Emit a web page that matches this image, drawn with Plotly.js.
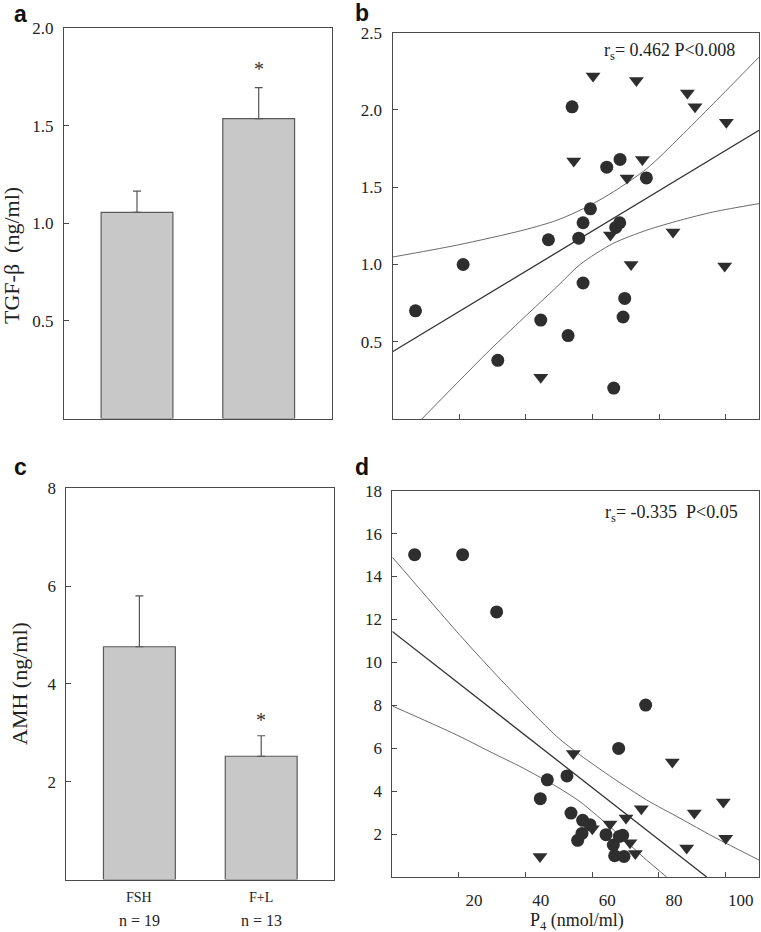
<!DOCTYPE html>
<html>
<head>
<meta charset="utf-8">
<script src="https://cdn.plot.ly/plotly-3.0.1.min.js"></script>
<style>html,body{margin:0;padding:0;background:#fff;}#chart{width:761px;height:932px;}</style>
</head>
<body>
<div id="chart"></div>
<script>
// ---------- data ----------
const groups = ["FSH", "F+L"];
const groupN = ["n = 19", "n = 13"];

// panel a: TGF-beta (ng/ml)
const tgfMean = [1.056, 1.537];
const tgfSem = [0.109, 0.159];

// panel c: AMH (ng/ml)
const amhMean = [4.76, 2.52];
const amhSem = [1.04, 0.42];

// panel b: P4 vs TGF-beta
const bFshP4 = [6.9, 21.2, 31.6, 44.5, 46.8, 52.7, 53.9, 55.9, 57.2, 57.2, 59.4, 64.3, 66.4, 67.0, 68.2, 68.3, 69.2, 69.7, 76.2];
const bFshTgf = [0.70, 1.00, 0.38, 0.64, 1.16, 0.54, 2.02, 1.17, 1.27, 0.88, 1.36, 1.63, 0.20, 1.24, 1.27, 1.68, 0.66, 0.78, 1.56];
const bFlP4 = [44.5, 54.4, 60.2, 65.4, 70.4, 71.6, 73.2, 75.0, 84.2, 88.5, 90.8, 99.7, 100.2];
const bFlTgf = [0.27, 1.67, 2.22, 1.19, 1.56, 1.00, 2.19, 1.68, 1.21, 2.11, 2.02, 0.99, 1.92];
const bFitX = [0, 110];
const bFitY = [0.435, 1.868];
const bUpX = [0, 19.3, 39.2, 49.3, 58.3, 66.2, 76.3, 86.3, 96.3, 110];
const bUpY = [1.048, 1.125, 1.222, 1.286, 1.372, 1.469, 1.620, 1.825, 2.041, 2.342];
const bLoX = [8.8, 19.3, 29.2, 39.2, 49.3, 56.3, 66.2, 76.3, 86.3, 96.3, 110];
const bLoY = [0, 0.231, 0.446, 0.651, 0.855, 1.0, 1.136, 1.222, 1.286, 1.340, 1.394];

// panel d: P4 vs AMH
const dFshP4 = [6.7, 21.1, 31.3, 44.4, 46.5, 52.4, 53.6, 55.6, 56.9, 57.1, 59.3, 64.1, 66.3, 66.7, 67.9, 68.1, 69.1, 69.5, 76.0];
const dFshAmh = [15.02, 15.02, 12.35, 3.65, 4.53, 4.71, 2.98, 1.71, 2.03, 2.64, 2.44, 1.97, 1.49, 0.99, 5.99, 1.89, 1.94, 0.96, 8.01];
const dFlP4 = [44.3, 54.3, 60.0, 65.3, 70.1, 71.3, 72.9, 74.7, 84.0, 88.3, 90.6, 99.3, 100.0];
const dFlAmh = [0.96, 5.76, 2.25, 2.47, 2.75, 1.60, 1.09, 3.18, 5.36, 1.35, 2.98, 3.49, 1.81];
const dFitX = [0, 94.3];
const dFitY = [11.44, 0];
const dUpX = [0, 9.3, 19.3, 29.3, 39.3, 49.3, 56.3, 66.3, 76.3, 86.3, 96.3, 110];
const dUpY = [14.9, 13.23, 11.44, 9.73, 8.10, 6.55, 5.69, 4.60, 3.59, 2.74, 1.88, 0.79];
const dLoX = [0, 19.3, 29.3, 39.3, 49.3, 56.3, 66.3, 76.3, 82.3];
const dLoY = [7.97, 6.62, 5.84, 5.07, 4.21, 3.51, 2.20, 0.79, 0];

const yTicksA = [0.5, 1.0, 1.5, 2.0];
const yTicksB = [0.5, 1.0, 1.5, 2.0, 2.5];
const yTicksC = [2, 4, 6, 8];
const yTicksD = [2, 4, 6, 8, 10, 12, 14, 16, 18];
const xTicksP4 = [20, 40, 60, 80, 100];

// ---------- layout helpers ----------
const W = 761, H = 932;
const px = v => v / W;
const py = v => 1 - v / H;

const SERIF = "Liberation Serif, Times New Roman, serif";
const SANS = "Liberation Sans, Arial, sans-serif";
const AX = "#4a4a4a";
const DOT = "#2e2e2e";

function axisBase(extra) {
  return Object.assign({
    showline: true, mirror: true, linecolor: AX, linewidth: 1,
    showgrid: false, zeroline: false, ticks: "inside", ticklen: 5,
    tickcolor: AX, tickwidth: 1,
    tickfont: {family: SERIF, size: 17, color: "#222"}
  }, extra);
}

const barStyle = {color: "#c8c8c8", line: {color: "#5a5a5a", width: 1.2}};
const errStyle = {type: "data", symmetric: false, color: "#555", thickness: 1.2, width: 4};

const traces = [
  {type: "bar", x: [0, 1], y: tgfMean, width: 0.59, marker: barStyle,
   error_y: Object.assign({array: tgfSem, arrayminus: [0, 0]}, errStyle),
   xaxis: "x", yaxis: "y", hoverinfo: "skip"},
  {type: "bar", x: [0, 1], y: amhMean, width: 0.59, marker: barStyle,
   error_y: Object.assign({array: amhSem, arrayminus: [0, 0]}, errStyle),
   xaxis: "x3", yaxis: "y3", hoverinfo: "skip"},

  // panel b
  {type: "scatter", mode: "lines", x: bUpX, y: bUpY, line: {color: "#444", width: 0.8, shape: "spline", smoothing: 0.8}, xaxis: "x2", yaxis: "y2"},
  {type: "scatter", mode: "lines", x: bLoX, y: bLoY, line: {color: "#444", width: 0.8, shape: "spline", smoothing: 0.8}, xaxis: "x2", yaxis: "y2"},
  {type: "scatter", mode: "lines", x: bFitX, y: bFitY, line: {color: "#333", width: 1.3}, xaxis: "x2", yaxis: "y2"},
  {type: "scatter", mode: "markers", x: bFshP4, y: bFshTgf, marker: {symbol: "circle", size: 13, color: DOT}, xaxis: "x2", yaxis: "y2"},
  {type: "scatter", mode: "markers", x: bFlP4, y: bFlTgf, marker: {symbol: "triangle-down", size: 13, color: DOT}, xaxis: "x2", yaxis: "y2"},

  // panel d
  {type: "scatter", mode: "lines", x: dUpX, y: dUpY, line: {color: "#444", width: 0.8, shape: "spline", smoothing: 0.8}, xaxis: "x4", yaxis: "y4"},
  {type: "scatter", mode: "lines", x: dLoX, y: dLoY, line: {color: "#444", width: 0.8, shape: "spline", smoothing: 0.8}, xaxis: "x4", yaxis: "y4"},
  {type: "scatter", mode: "lines", x: dFitX, y: dFitY, line: {color: "#333", width: 1.3}, xaxis: "x4", yaxis: "y4"},
  {type: "scatter", mode: "markers", x: dFshP4, y: dFshAmh, marker: {symbol: "circle", size: 13, color: DOT}, xaxis: "x4", yaxis: "y4"},
  {type: "scatter", mode: "markers", x: dFlP4, y: dFlAmh, marker: {symbol: "triangle-down", size: 13, color: DOT}, xaxis: "x4", yaxis: "y4"}
];

const annotations = [
  // panel letters
  {text: "<b>a</b>", xref: "paper", yref: "paper", x: px(20), y: py(14), showarrow: false, font: {family: SANS, size: 23, color: "#111"}, xanchor: "center", yanchor: "middle"},
  {text: "<b>b</b>", xref: "paper", yref: "paper", x: px(362), y: py(13), showarrow: false, font: {family: SANS, size: 23, color: "#111"}, xanchor: "center", yanchor: "middle"},
  {text: "<b>c</b>", xref: "paper", yref: "paper", x: px(20), y: py(467), showarrow: false, font: {family: SANS, size: 23, color: "#111"}, xanchor: "center", yanchor: "middle"},
  {text: "<b>d</b>", xref: "paper", yref: "paper", x: px(362), y: py(467), showarrow: false, font: {family: SANS, size: 23, color: "#111"}, xanchor: "center", yanchor: "middle"},
  // y titles
  {text: "TGF-β  (ng/ml)", xref: "paper", yref: "paper", x: px(11), y: py(256), textangle: -90, showarrow: false, font: {family: SERIF, size: 22, color: "#222"}, xanchor: "center", yanchor: "middle"},
  {text: "AMH (ng/ml)", xref: "paper", yref: "paper", x: px(19), y: py(684), textangle: -90, showarrow: false, font: {family: SERIF, size: 22, color: "#222"}, xanchor: "center", yanchor: "middle"},
  // asterisks
  {text: "*", xref: "x", yref: "y", x: 1, y: 1.79, showarrow: false, font: {family: SERIF, size: 20, color: "#333"}},
  {text: "*", xref: "x3", yref: "y3", x: 1, y: 3.27, showarrow: false, font: {family: SERIF, size: 20, color: "#333"}},
  // correlation text
  {text: "r<sub>s</sub>= 0.462 P<0.008", xref: "paper", yref: "paper", x: px(737), y: py(51), xanchor: "right", yanchor: "middle", showarrow: false, font: {family: SERIF, size: 18, color: "#222"}},
  {text: "r<sub>s</sub>= -0.335  P<0.05", xref: "paper", yref: "paper", x: px(740), y: py(513), xanchor: "right", yanchor: "middle", showarrow: false, font: {family: SERIF, size: 18, color: "#222"}},
  // x title d
  {text: "P<sub>4</sub> (nmol/ml)", xref: "paper", yref: "paper", x: px(577), y: py(921), xanchor: "center", yanchor: "middle", showarrow: false, font: {family: SERIF, size: 18, color: "#222"}}
];
// group labels under panel c
groups.forEach((g, i) => {
  annotations.push({text: g, xref: "x3", yref: "paper", x: i, y: py(897), yanchor: "middle", showarrow: false, font: {family: SERIF, size: 14, color: "#222"}});
  annotations.push({text: groupN[i], xref: "x3", yref: "paper", x: i, y: py(920), yanchor: "middle", showarrow: false, font: {family: SERIF, size: 16, color: "#222"}});
});

const layout = {
  width: W, height: H,
  margin: {l: 0, r: 0, t: 0, b: 0},
  paper_bgcolor: "#fff", plot_bgcolor: "#fff",
  showlegend: false,
  xaxis: axisBase({domain: [px(64), px(331.7)], range: [-0.6, 1.6], showticklabels: false, ticks: "", anchor: "y"}),
  yaxis: axisBase({domain: [py(418.5), py(28.3)], range: [0, 2.0], tickvals: yTicksA, tickformat: ".1f", anchor: "x", ticklabelstandoff: 6}),
  xaxis2: axisBase({domain: [px(392.5), px(759)], range: [0, 110], tickvals: xTicksP4, showticklabels: false, anchor: "y2"}),
  yaxis2: axisBase({domain: [py(419), py(32.7)], range: [0, 2.5], tickvals: yTicksB, tickformat: ".1f", anchor: "x2", ticklabelstandoff: 6}),
  xaxis3: axisBase({domain: [px(66.3), px(334.3)], range: [-0.6, 1.6], showticklabels: false, ticks: "", anchor: "y3"}),
  yaxis3: axisBase({domain: [py(879.5), py(488.3)], range: [0, 8], tickvals: yTicksC, anchor: "x3", ticklabelstandoff: 6}),
  xaxis4: axisBase({domain: [px(392.3), px(759)], range: [0, 110], tickvals: xTicksP4, anchor: "y4", ticklabelshift: 15, ticklabelstandoff: 8}),
  yaxis4: axisBase({domain: [py(877), py(490.7)], range: [0, 18], tickvals: yTicksD, anchor: "x4", ticklabelstandoff: 6}),
  annotations: annotations
};

Plotly.newPlot("chart", traces, layout, {staticPlot: true, displayModeBar: false});
</script>
</body>
</html>
